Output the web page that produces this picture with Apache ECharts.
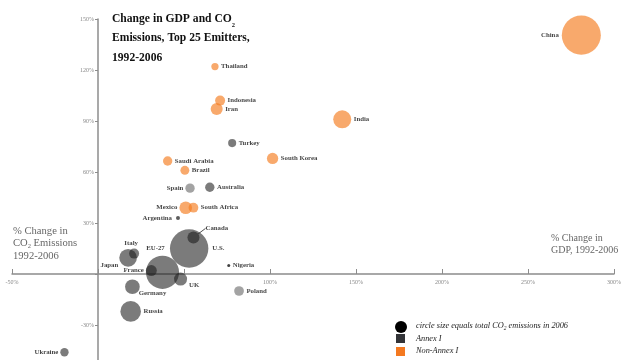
<!DOCTYPE html>
<html><head><meta charset="utf-8">
<script src="https://cdn.jsdelivr.net/npm/echarts@6/dist/echarts.min.js"></script>
<style>html,body{margin:0;padding:0;background:#fff}#c{width:640px;height:360px}</style>
</head><body><div id="c"></div>
<script>
// ---- data ----
const annexNames = ['U.S.','EU-27','Russia','Japan','Germany','Canada','UK','Italy','France','Australia','Spain','Poland','Turkey','Ukraine'];
const annexGdp = [53,37.5,19,17.5,20,55.5,48,21,31,65,53.5,82,78,-19.5];
const annexCo2 = [15,1,-22,9.5,-7.5,21.5,-3,12,2,51,50.5,-10,77,-46];
const annexEmissions = [5900,4400,1700,1250,860,580,680,400,480,350,350,380,260,280];

const nonAnnexNames = ['China','India','Iran','Mexico','South Korea','Indonesia','Saudi Arabia','Brazil','South Africa','Thailand','Argentina','Nigeria'];
const nonAnnexGdp = [281,142,69,51,101.5,71,40.5,50.5,55.5,68,46.5,76];
const nonAnnexCo2 = [140.5,91,97,39,68,102,66.5,61,39,122,33,5];
const nonAnnexEmissions = [6100,1300,580,640,510,400,350,320,380,210,64,36];

const xTickLabels = [-50,100,150,200,250,300];
const yTickLabels = [-30,30,60,90,120,150];

// ---- styling / layout (kept apart from data) ----
const SERIF = 'Liberation Serif';
const GRID = { left: 12, right: 26, top: 19, bottom: -16 };
const X_MIN = -50, X_MAX = 300, Y_MIN = -60, Y_MAX = 150;
const plotW = 640 - GRID.left - GRID.right, plotH = 360 - GRID.top - GRID.bottom;
// shift the axes so they cross at the origin (labels move with them)
const yAxisOffset = -((0 - X_MIN) / (X_MAX - X_MIN)) * plotW;
const xAxisOffset = -((0 - Y_MIN) / (Y_MAX - Y_MIN)) * plotH;

const labelPlace = {
  'China': {position:'left', distance:3},
  'Japan': {position:'left', distance:1},
  'Italy': {position:'top', distance:2},
  'EU-27': {position:'top', distance:4},
  'France': {position:'left', distance:2},
  'UK': {position:'right', distance:2},
  'Germany': {position:'right', distance:-1},
  'Spain': {position:'left', distance:2},
  'Mexico': {position:'left', distance:2},
  'Argentina': {position:'left', distance:4},
  'Ukraine': {position:'left', distance:2},
  'U.S.': {position:'right', distance:4},
  'Canada': {position:'right', distance:6}
};
const labelShift = {
  'Japan': {dy: 7},
  'Italy': {dx: -3},
  'EU-27': {dx: -7},
  'UK': {dy: 6},
  'Germany': {dy: 6},
  'Canada': {dy: -9}
};
const colorOverride = {
  'Spain': {color:'rgba(26,26,26,0.5)'},
  'Poland': {color:'rgba(26,26,26,0.5)'},
  'Argentina': {color:'#333'},
  'Nigeria': {color:'#111'}
};

function build(names, gdp, co2, em) {
  return names.map((n, i) => {
    const item = { name: n, value: [gdp[i], co2[i], em[i]] };
    item.label = Object.assign({position:'right', distance:2.5}, labelPlace[n] || {});
    if (colorOverride[n]) item.itemStyle = colorOverride[n];
    if (n === 'Canada') item.labelLine = { show: true, lineStyle: { color: '#222', width: 0.8 } };
    return item;
  });
}
const shiftLabel = p => labelShift[p.text] || {};

const labelStyle = { show: true, formatter: '{b}', fontFamily: SERIF, fontWeight: 'bold', fontSize: 6.8, color: '#111' };

const chart = echarts.init(document.getElementById('c'), null, {renderer: 'canvas'});
chart.setOption({
  animation: false,
  backgroundColor: '#fff',
  title: {
    left: 112, top: 9, padding: 0,
    text: '{t|Change in GDP and CO}{s|2}\n{t|Emissions, Top 25 Emitters,}\n{t|1992-2006}',
    textStyle: {
      rich: {
        t: { fontFamily: SERIF, fontWeight: 'bold', fontSize: 11.6, lineHeight: 19.5, color: '#111' },
        s: { fontFamily: SERIF, fontWeight: 'bold', fontSize: 6.5, lineHeight: 10, verticalAlign: 'bottom', color: '#111' }
      }
    }
  },
  grid: Object.assign({ outerBoundsMode: 'none', containLabel: false }, GRID),
  xAxis: {
    type: 'value', min: X_MIN, max: X_MAX, interval: 50,
    position: 'bottom', offset: xAxisOffset,
    axisLine: { show: true, onZero: false, lineStyle: { color: '#8c8c8c', width: 1.5 } },
    axisTick: { show: true, inside: true, length: 5, lineStyle: { color: '#8c8c8c', width: 1 } },
    axisLabel: {
      show: true, margin: 5, fontFamily: SERIF, fontSize: 6, color: '#888',
      formatter: v => xTickLabels.indexOf(v) >= 0 ? v + '%' : ''
    },
    splitLine: { show: false }
  },
  yAxis: {
    type: 'value', min: Y_MIN, max: Y_MAX, interval: 30,
    position: 'left', offset: yAxisOffset,
    axisLine: { show: true, onZero: false, lineStyle: { color: '#8c8c8c', width: 1.5 } },
    axisTick: { show: true, inside: false, length: 3, lineStyle: { color: '#8c8c8c', width: 1 } },
    axisLabel: {
      show: true, margin: 4, fontFamily: SERIF, fontSize: 6, color: '#888',
      formatter: v => yTickLabels.indexOf(v) >= 0 ? v + '%' : ''
    },
    splitLine: { show: false }
  },
  series: [
    {
      name: 'Non-Annex I', type: 'scatter',
      symbol: 'circle',
      symbolSize: v => Math.sqrt(v[2]) * 0.5,
      itemStyle: { color: 'rgba(244,123,31,0.82)' },
      label: labelStyle,
      labelLayout: shiftLabel,
      emphasis: { disabled: true },
      data: build(nonAnnexNames, nonAnnexGdp, nonAnnexCo2, nonAnnexEmissions)
    },
    {
      name: 'Annex I', type: 'scatter',
      symbol: 'circle',
      symbolSize: v => Math.sqrt(v[2]) * 0.5,
      itemStyle: { color: 'rgba(26,26,26,0.72)' },
      label: labelStyle,
      labelLayout: shiftLabel,
      emphasis: { disabled: true },
      data: build(annexNames, annexGdp, annexCo2, annexEmissions)
    }
  ],
  graphic: [
    { type: 'text', left: 13, top: 225.3, silent: true,
      style: { text: '{a|% Change in}\n{a|CO}{s|2}{a| Emissions}\n{a|1992-2006}',
        rich: {
          a: { fontFamily: SERIF, fontSize: 10.6, lineHeight: 12.8, fill: '#666', color: '#666' },
          s: { fontFamily: SERIF, fontSize: 6.5, lineHeight: 7, verticalAlign: 'bottom', fill: '#666', color: '#666' }
        } } },
    { type: 'text', left: 551, top: 233, silent: true,
      style: { text: '% Change in\nGDP, 1992-2006', font: '10px "Liberation Serif"', lineHeight: 11.6, fill: '#666' } },
    { type: 'circle', shape: { cx: 401, cy: 327, r: 6 }, style: { fill: '#000' }, silent: true },
    { type: 'rect', shape: { x: 396, y: 334, width: 9, height: 9 }, style: { fill: '#333438' }, silent: true },
    { type: 'rect', shape: { x: 396, y: 347, width: 9, height: 9 }, style: { fill: '#f47920' }, silent: true },
    { type: 'text', x: 416, y: 326, silent: true,
      style: { text: '{i|circle size equals total CO}{s|2}{i| emissions in 2006}', verticalAlign: 'middle',
        rich: {
          i: { fontFamily: SERIF, fontStyle: 'italic', fontSize: 8.3, lineHeight: 12, fill: '#222', color: '#222' },
          s: { fontFamily: SERIF, fontStyle: 'italic', fontSize: 5.5, lineHeight: 6, verticalAlign: 'bottom', fill: '#222', color: '#222' }
        } } },
    { type: 'text', x: 416, y: 338.5, silent: true,
      style: { text: 'Annex I', font: 'italic 8.3px "Liberation Serif"', verticalAlign: 'middle', fill: '#222' } },
    { type: 'text', x: 416, y: 351, silent: true,
      style: { text: 'Non-Annex I', font: 'italic 8.3px "Liberation Serif"', verticalAlign: 'middle', fill: '#222' } }
  ]
});
</script></body></html>
